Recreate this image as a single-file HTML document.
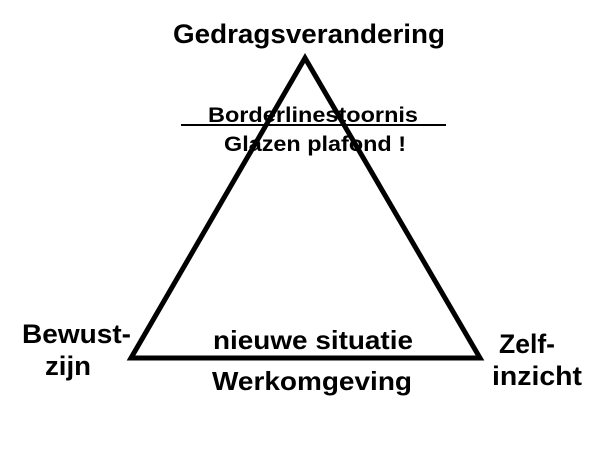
<!DOCTYPE html>
<html><head><style>html,body{margin:0;padding:0;background:#fff;}svg{display:block}</style></head>
<body>
<svg width="600" height="458" viewBox="0 0 600 458" xmlns="http://www.w3.org/2000/svg" font-family="Liberation Sans, Arial, sans-serif" font-weight="bold" fill="#000">
<rect width="600" height="458" fill="#fff"/>
<polygon points="305,58 131,358 480,358" fill="none" stroke="#000" stroke-width="5" stroke-linejoin="miter"/>
<line x1="181" y1="125" x2="446" y2="125" stroke="#000" stroke-width="2"/>
<text x="173" y="43" font-size="27" textLength="272" lengthAdjust="spacingAndGlyphs">Gedragsverandering</text>
<text x="208" y="122" font-size="21" textLength="210" lengthAdjust="spacingAndGlyphs">Borderlinestoornis</text>
<text x="224" y="151" font-size="21" textLength="182" lengthAdjust="spacingAndGlyphs">Glazen plafond !</text>
<text x="213" y="349" font-size="26" textLength="200" lengthAdjust="spacingAndGlyphs">nieuwe situatie</text>
<text x="212" y="390" font-size="26" textLength="200" lengthAdjust="spacingAndGlyphs">Werkomgeving</text>
<text x="22" y="343" font-size="27" textLength="109" lengthAdjust="spacingAndGlyphs">Bewust-</text>
<text x="45" y="375" font-size="27" textLength="46" lengthAdjust="spacingAndGlyphs">zijn</text>
<text x="499" y="353" font-size="27" textLength="56" lengthAdjust="spacingAndGlyphs">Zelf-</text>
<text x="492" y="385" font-size="27" textLength="90" lengthAdjust="spacingAndGlyphs">inzicht</text>
</svg>
</body></html>
